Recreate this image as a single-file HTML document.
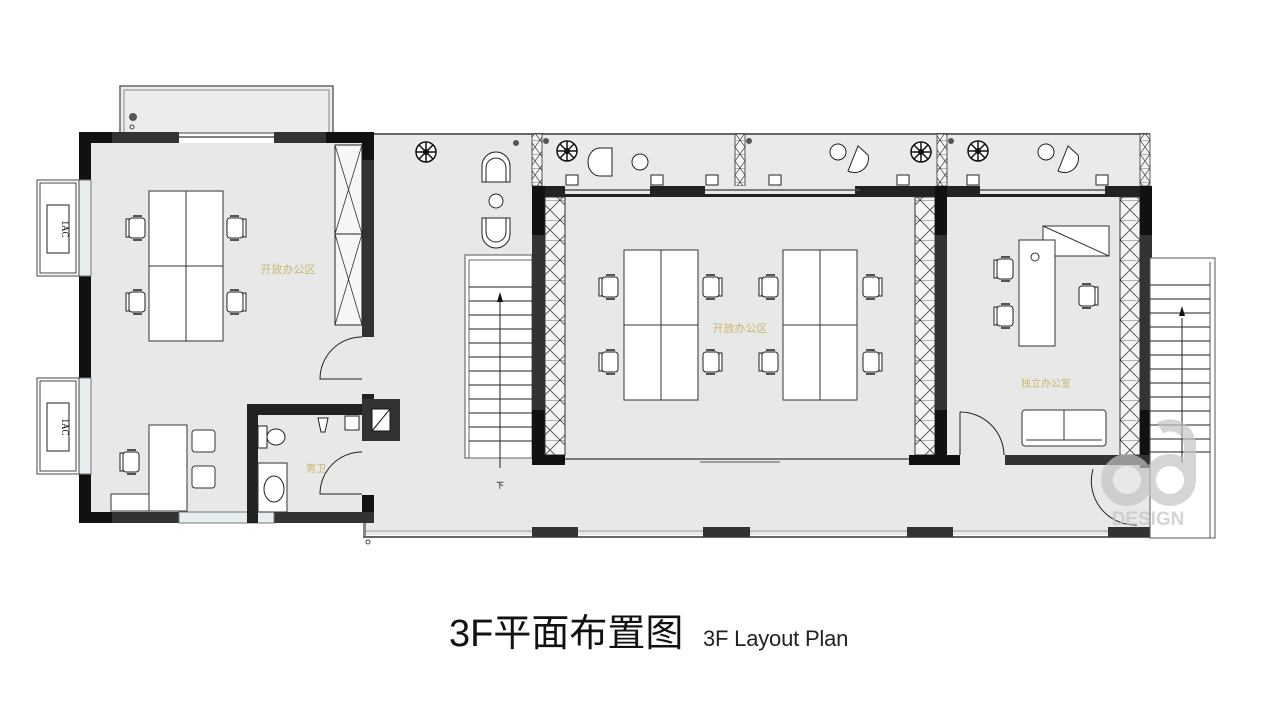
<!DOCTYPE html>
<html><head><meta charset="utf-8"><style>
html,body{margin:0;padding:0;background:#fff;width:1271px;height:704px;overflow:hidden}
svg{display:block}
</style></head><body>
<svg width="1271" height="704" viewBox="0 0 1271 704" xmlns="http://www.w3.org/2000/svg">
<defs>
<g id="chR"><rect x="-9" y="-10" width="16" height="20" rx="3" fill="#fff" stroke="#222" stroke-width="1"/><rect x="7" y="-9" width="3" height="18" fill="#fff" stroke="#222" stroke-width="1"/><line x1="-6" y1="-12" x2="3" y2="-12" stroke="#222" stroke-width="1.5"/><line x1="-6" y1="12" x2="3" y2="12" stroke="#222" stroke-width="1.5"/></g>
<g id="chL"><use href="#chR" transform="scale(-1,1)"/></g>
<pattern id="hx" width="20" height="20" patternUnits="userSpaceOnUse"><rect width="20" height="20" fill="#f4f4f4"/><path d="M0 0L20 20M20 0L0 20M0 0H20" stroke="#444" stroke-width="0.8"/></pattern>
<pattern id="hx2" width="10" height="14" patternUnits="userSpaceOnUse"><rect width="10" height="14" fill="#f4f4f4"/><path d="M0 0L10 14M10 0L0 14M0 0H10" stroke="#444" stroke-width="0.7"/></pattern>
<g id="plant"><circle r="10" fill="#fff" stroke="#111" stroke-width="1.5"/><circle r="3" fill="#111"/><path d="M0-10L0 10M-10 0L10 0M-7-7L7 7M7-7L-7 7" stroke="#111" stroke-width="1.5"/></g>
</defs>
<rect width="1271" height="704" fill="#fff"/>

<rect x="91" y="143" width="272" height="370" fill="#e8e8e8"/>
<rect x="363" y="135" width="787" height="400" fill="#e8e8e8"/>
<rect x="120" y="86" width="213" height="47" fill="#ececec" stroke="#666" stroke-width="1.5"/>
<rect x="124" y="90" width="205" height="43" fill="none" stroke="#888" stroke-width="1"/>
<circle cx="133" cy="117" r="4" fill="#555"/><circle cx="132" cy="127" r="2" fill="none" stroke="#444"/>

<rect x="79" y="132" width="12" height="391" fill="#111"/>
<rect x="79" y="132" width="100" height="11" fill="#111"/>
<rect x="112" y="132" width="67" height="11" fill="#333"/>
<rect x="274" y="132" width="100" height="11" fill="#333"/>
<rect x="326" y="132" width="48" height="11" fill="#111"/>
<line x1="179" y1="137" x2="274" y2="137" stroke="#555" stroke-width="1.5"/>
<rect x="362" y="132" width="12" height="205" fill="#111"/>
<rect x="362" y="160" width="12" height="177" fill="#333"/>
<rect x="362" y="394" width="12" height="18" fill="#222"/>
<rect x="362" y="495" width="12" height="28" fill="#111"/>
<rect x="79" y="512" width="295" height="11" fill="#111"/>
<rect x="112" y="512" width="67" height="11" fill="#333"/>
<rect x="274" y="512" width="100" height="11" fill="#333"/>
<rect x="179" y="512" width="95" height="11" fill="#e6eef0" stroke="#777" stroke-width="1"/>
<rect x="79" y="180" width="12" height="96" fill="#e6eef0" stroke="#777"/>
<rect x="79" y="378" width="12" height="96" fill="#e6eef0" stroke="#777"/>
<rect x="37" y="180" width="42" height="96" fill="#fff" stroke="#444"/>
<rect x="40" y="183" width="36" height="90" fill="none" stroke="#444"/>
<rect x="47" y="205" width="22" height="48" fill="#fff" stroke="#222"/>
<text transform="translate(62,229) rotate(90)" font-family="Liberation Serif,serif" font-size="9" text-anchor="middle">1AC</text>
<rect x="37" y="378" width="42" height="96" fill="#fff" stroke="#444"/>
<rect x="40" y="381" width="36" height="90" fill="none" stroke="#444"/>
<rect x="47" y="403" width="22" height="48" fill="#fff" stroke="#222"/>
<text transform="translate(62,427) rotate(90)" font-family="Liberation Serif,serif" font-size="9" text-anchor="middle">1AC</text>
<rect x="335" y="145" width="27" height="180" fill="#f6f6f6" stroke="#222"/>
<line x1="335" y1="234" x2="362" y2="234" stroke="#222"/>
<path d="M335 145L362 234M362 145L335 234M335 234L362 325M362 234L335 325" stroke="#333" stroke-width="0.8"/>
<rect x="149" y="191" width="74" height="150" fill="#fff" stroke="#333"/>
<path d="M186 191V341M149 266H223" stroke="#333"/>
<use href="#chL" x="136" y="228"/><use href="#chR" x="236" y="228"/>
<use href="#chL" x="136" y="302"/><use href="#chR" x="236" y="302"/>
<text x="288" y="273" font-family="Noto Sans CJK SC,sans-serif" font-size="11" fill="#c8b870" text-anchor="middle">开放办公区</text>
<rect x="149" y="425" width="38" height="86" fill="#fff" stroke="#333"/>
<rect x="111" y="494" width="38" height="17" fill="#fff" stroke="#333"/>
<use href="#chL" x="130" y="462"/>
<rect x="192" y="430" width="23" height="22" rx="3" fill="#fff" stroke="#333"/>
<rect x="192" y="466" width="23" height="22" rx="3" fill="#fff" stroke="#333"/>
<path d="M362 337A42 42 0 0 0 320 379H362" fill="none" stroke="#222"/>
<rect x="247" y="404" width="11" height="119" fill="#222"/>
<rect x="247" y="404" width="115" height="11" fill="#222"/>
<rect x="258" y="415" width="104" height="97" fill="#e8e8e8"/>
<path d="M362 452A42 42 0 0 0 320 494H362" fill="none" stroke="#222"/>
<rect x="258" y="463" width="29" height="49" fill="#fff" stroke="#333"/>
<ellipse cx="274" cy="489" rx="10" ry="13" fill="#fff" stroke="#222"/>
<rect x="258" y="426" width="9" height="22" fill="#fff" stroke="#222"/>
<ellipse cx="276" cy="437" rx="9" ry="8" fill="#fff" stroke="#222"/>
<path d="M318 418h10l-3 14h-4z" fill="#fff" stroke="#222"/>
<rect x="345" y="416" width="14" height="14" fill="#fff" stroke="#222"/>
<text x="316" y="472" font-family="Noto Sans CJK SC,sans-serif" font-size="10" fill="#c8b870" text-anchor="middle">男卫</text>
<rect x="362" y="399" width="38" height="42" fill="#333"/>
<rect x="372" y="409" width="18" height="22" fill="#fff" stroke="#111"/>
<line x1="372" y1="431" x2="390" y2="409" stroke="#111"/>

<line x1="374" y1="134" x2="532" y2="134" stroke="#666" stroke-width="2"/>
<rect x="363" y="523" width="3" height="14" fill="#888"/>
<line x1="363" y1="537" x2="1150" y2="537" stroke="#666" stroke-width="2"/>
<line x1="366" y1="531" x2="1150" y2="531" stroke="#999" stroke-width="1"/>
<rect x="532" y="527" width="46" height="10" fill="#333"/>
<rect x="703" y="527" width="47" height="10" fill="#333"/>
<rect x="907" y="527" width="46" height="10" fill="#333"/>
<rect x="1108" y="527" width="42" height="10" fill="#333"/>
<circle cx="368" cy="542" r="2" fill="none" stroke="#444"/>
<use href="#plant" x="426" y="152"/>
<circle cx="516" cy="143" r="3" fill="#555"/>
<path d="M482 182V166A14 14 0 0 1 510 166V182Z" fill="#fff" stroke="#222"/>
<path d="M486 182V168A10 10 0 0 1 506 168V182" fill="none" stroke="#222"/>
<circle cx="496" cy="201" r="7" fill="#fff" stroke="#222"/>
<path d="M482 218V234A14 14 0 0 0 510 234V218Z" fill="#fff" stroke="#222"/>
<path d="M486 218V232A10 10 0 0 0 506 232V218" fill="none" stroke="#222"/>
<rect x="465" y="255" width="67" height="203" fill="#fff" stroke="#555"/>
<rect x="469" y="260" width="63" height="198" fill="none" stroke="#666"/>
<g stroke="#222" stroke-width="1">
<line x1="469" y1="287" x2="532" y2="287"/><line x1="469" y1="301" x2="532" y2="301"/><line x1="469" y1="315" x2="532" y2="315"/><line x1="469" y1="329" x2="532" y2="329"/><line x1="469" y1="343" x2="532" y2="343"/><line x1="469" y1="357" x2="532" y2="357"/><line x1="469" y1="371" x2="532" y2="371"/><line x1="469" y1="385" x2="532" y2="385"/><line x1="469" y1="399" x2="532" y2="399"/><line x1="469" y1="413" x2="532" y2="413"/><line x1="469" y1="427" x2="532" y2="427"/><line x1="469" y1="441" x2="532" y2="441"/>
<line x1="500" y1="300" x2="500" y2="468"/></g>
<path d="M500 292l-3 10h6z" fill="#111"/>
<text x="500" y="488" font-family="Noto Sans CJK SC,sans-serif" font-size="8" text-anchor="middle">下</text>

<rect x="542" y="134" width="608" height="52" fill="#eaeaea"/>
<line x1="532" y1="134" x2="1150" y2="134" stroke="#666" stroke-width="2"/>
<rect x="532" y="134" width="10" height="52" fill="url(#hx2)" stroke="#333" stroke-width="0.8"/>
<rect x="735" y="134" width="10" height="52" fill="url(#hx2)" stroke="#333" stroke-width="0.8"/>
<rect x="937" y="134" width="10" height="52" fill="url(#hx2)" stroke="#333" stroke-width="0.8"/>
<rect x="1140" y="134" width="10" height="52" fill="url(#hx2)" stroke="#333" stroke-width="0.8"/>
<use href="#plant" x="567" y="151"/><use href="#plant" x="921" y="152"/><use href="#plant" x="978" y="151"/>
<circle cx="546" cy="141" r="3" fill="#555"/><circle cx="749" cy="141" r="3" fill="#555"/><circle cx="951" cy="141" r="3" fill="#555"/>
<path d="M612 176H600A12 14 0 0 1 600 148H612Z" fill="#fff" stroke="#222"/>
<circle cx="640" cy="162" r="8" fill="#fff" stroke="#222"/>
<circle cx="838" cy="152" r="8" fill="#fff" stroke="#222"/>
<path d="M858 146l-10 25a14 14 0 0 0 20-16z" fill="#fff" stroke="#222"/>
<circle cx="1046" cy="152" r="8" fill="#fff" stroke="#222"/>
<path d="M1068 146l-10 25a14 14 0 0 0 20-16z" fill="#fff" stroke="#222"/>
<g fill="#fff" stroke="#222"><path d="M566 175h12v10h-12z"/><path d="M651 175h12v10h-12z"/><path d="M706 175h12v10h-12z"/><path d="M769 175h12v10h-12z"/><path d="M897 175h12v10h-12z"/><path d="M967 175h12v10h-12z"/><path d="M1096 175h12v10h-12z"/></g>

<rect x="532" y="186" width="415" height="11" fill="#222"/>
<rect x="565" y="186" width="130" height="8" fill="#e8e8e8"/>
<line x1="565" y1="190" x2="695" y2="190" stroke="#555" stroke-width="1.5"/>
<rect x="650" y="186" width="45" height="11" fill="#222"/>
<rect x="695" y="186" width="10" height="11" fill="#222"/>
<rect x="705" y="186" width="150" height="8" fill="#e8e8e8"/>
<line x1="705" y1="190" x2="860" y2="190" stroke="#555" stroke-width="1.5"/>
<rect x="532" y="186" width="13" height="279" fill="#111"/>
<rect x="532" y="235" width="13" height="175" fill="#333"/>
<rect x="545" y="197" width="20" height="258" fill="url(#hx)" stroke="#333"/>
<rect x="915" y="197" width="20" height="258" fill="url(#hx)" stroke="#333"/>
<rect x="935" y="186" width="12" height="279" fill="#111"/>
<rect x="935" y="235" width="12" height="175" fill="#333"/>
<rect x="532" y="455" width="33" height="10" fill="#111"/>
<rect x="909" y="455" width="38" height="10" fill="#111"/>
<line x1="565" y1="459" x2="909" y2="459" stroke="#555" stroke-width="1.5"/>
<line x1="700" y1="462" x2="780" y2="462" stroke="#555"/>
<g fill="#fff" stroke="#333">
<rect x="624" y="250" width="74" height="150"/><rect x="783" y="250" width="74" height="150"/></g>
<path d="M661 250V400M624 325H698M820 250V400M783 325H857" stroke="#333"/>
<use href="#chL" x="609" y="287"/><use href="#chR" x="712" y="287"/>
<use href="#chL" x="609" y="362"/><use href="#chR" x="712" y="362"/>
<use href="#chL" x="769" y="287"/><use href="#chR" x="872" y="287"/>
<use href="#chL" x="769" y="362"/><use href="#chR" x="872" y="362"/>
<text x="740" y="332" font-family="Noto Sans CJK SC,sans-serif" font-size="11" fill="#c8b870" text-anchor="middle">开放办公区</text>

<rect x="947" y="186" width="203" height="11" fill="#222"/>
<rect x="980" y="186" width="125" height="8" fill="#e8e8e8"/>
<line x1="980" y1="190" x2="1105" y2="190" stroke="#555" stroke-width="1.5"/>
<rect x="1120" y="197" width="20" height="258" fill="url(#hx)" stroke="#333"/>
<rect x="1140" y="186" width="12" height="282" fill="#111"/>
<rect x="1140" y="235" width="12" height="175" fill="#333"/>
<rect x="947" y="455" width="13" height="10" fill="#111"/>
<rect x="1005" y="455" width="147" height="10" fill="#333"/>
<path d="M960 412A44 44 0 0 1 1004 455" fill="none" stroke="#222"/>
<line x1="960" y1="412" x2="960" y2="455" stroke="#222"/>
<rect x="1043" y="226" width="66" height="30" fill="#fff" stroke="#333"/>
<line x1="1043" y1="226" x2="1109" y2="256" stroke="#333"/>
<rect x="1019" y="240" width="36" height="106" fill="#fff" stroke="#333"/>
<circle cx="1035" cy="257" r="4" fill="none" stroke="#333"/>
<use href="#chL" x="1004" y="269"/><use href="#chL" x="1004" y="316"/>
<use href="#chR" x="1088" y="296"/>
<rect x="1022" y="410" width="84" height="36" rx="3" fill="#fff" stroke="#333"/>
<path d="M1064 410V440M1026 440H1102" stroke="#333"/>
<text x="1046" y="387" font-family="Noto Sans CJK SC,sans-serif" font-size="10" fill="#c8b870" text-anchor="middle">独立办公室</text>

<rect x="1150" y="258" width="65" height="280" fill="#fff" stroke="#555"/>
<line x1="1210" y1="262" x2="1210" y2="538" stroke="#555"/>
<g stroke="#222"><line x1="1150" y1="285" x2="1210" y2="285"/><line x1="1150" y1="299" x2="1210" y2="299"/><line x1="1150" y1="313" x2="1210" y2="313"/><line x1="1150" y1="327" x2="1210" y2="327"/><line x1="1150" y1="341" x2="1210" y2="341"/><line x1="1150" y1="355" x2="1210" y2="355"/><line x1="1150" y1="369" x2="1210" y2="369"/><line x1="1150" y1="383" x2="1210" y2="383"/><line x1="1150" y1="397" x2="1210" y2="397"/><line x1="1150" y1="411" x2="1210" y2="411"/><line x1="1150" y1="425" x2="1210" y2="425"/><line x1="1150" y1="439" x2="1210" y2="439"/><line x1="1150" y1="452" x2="1210" y2="452"/><line x1="1182" y1="318" x2="1182" y2="463"/></g>
<path d="M1182 306l-3 10h6z" fill="#111"/>
<path d="M1093 469A44 44 0 0 0 1137 525" fill="none" stroke="#222"/>
<g opacity="0.7"><circle cx="1127" cy="480" r="20" fill="none" stroke="#c4c4c4" stroke-width="12"/><circle cx="1170" cy="480" r="20" fill="none" stroke="#c4c4c4" stroke-width="12"/><path d="M1190 480V445A20 20 0 0 0 1160 428" fill="none" stroke="#c4c4c4" stroke-width="12"/>
<text x="1148" y="525" font-family="Liberation Sans,sans-serif" font-weight="bold" font-size="19" fill="#c4c4c4" text-anchor="middle">DESIGN</text></g>

<text x="449" y="646" font-family="Liberation Sans,Noto Sans CJK SC,sans-serif" font-size="38" fill="#111">3F平面布置图</text>
<text x="703" y="646" font-family="Liberation Sans,sans-serif" font-size="22" fill="#222" letter-spacing="-0.2">3F Layout Plan</text>
</svg>
</body></html>
